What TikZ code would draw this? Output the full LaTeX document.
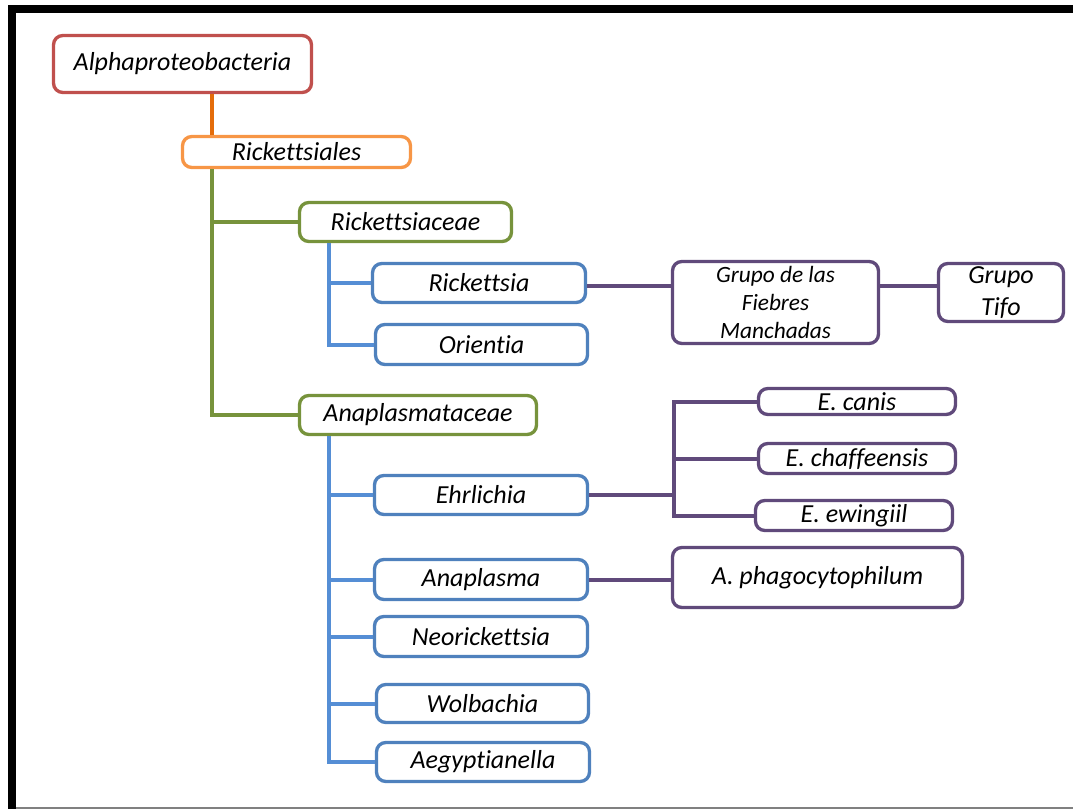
\documentclass[tikz,border=0pt]{standalone}
\usepackage{fontspec}
\setmainfont[Ligatures={NoCommon}]{Carlito}
\definecolor{cred}{HTML}{C0504D}
\definecolor{corange}{HTML}{F79646}
\definecolor{corangeline}{HTML}{E46C0A}
\definecolor{cgreen}{HTML}{77933C}
\definecolor{cblue}{HTML}{4F81BD}
\definecolor{cblueline}{HTML}{558ED5}
\definecolor{cpurple}{HTML}{604A7B}
\begin{document}
\begin{tikzpicture}[x=0.75pt,y=-0.75pt,
  sz/.style 2 args={minimum width=#1*0.75pt, minimum height=#2*0.75pt},
  box/.style={draw, line width=2.5pt, rounded corners=7pt, fill=white, inner sep=0pt,
    align=center, font=\fontsize{19.5}{24}\selectfont\itshape},
  redbox/.style={box, draw=cred},
  orangebox/.style={box, draw=corange},
  greenbox/.style={box, draw=cgreen},
  bluebox/.style={box, draw=cblue},
  purplebox/.style={box, draw=cpurple},
  oline/.style={draw=corangeline, line width=2.8pt},
  gline/.style={draw=cgreen, line width=2.8pt},
  bline/.style={draw=cblueline, line width=3pt},
  pline/.style={draw=cpurple, line width=3pt}]
\useasboundingbox (0,0) rectangle (1073,809);
% frame
\fill[black] (8,5) rectangle (1073,13);
\fill[black] (8,5) rectangle (16,809);
\fill[gray] (16,807) rectangle (1073,809);

% coordinates of trunks
\coordinate (t1) at (212,0);
\coordinate (t2) at (329,0);
\coordinate (t3) at (674,0);

% nodes
\node[redbox, sz={258}{57}] (alpha) at (182.5,64) {Alphaproteobacteria};
\node[orangebox, sz={228}{31}] (rales) at (296.5,152) {Rickettsiales};
\node[greenbox, sz={212}{39}] (rceae) at (405.5,222) {Rickettsiaceae};
\node[greenbox, sz={237}{39}] (aceae) at (418,415) {Anaplasmataceae};
\node[bluebox, sz={213}{39}] (rick) at (479,283) {Rickettsia};
\node[bluebox, sz={212}{40}] (orie) at (481.5,344.5) {Orientia};
\node[bluebox, sz={213}{39}] (ehrl) at (481,495) {Ehrlichia};
\node[bluebox, sz={213}{40}] (anap) at (481,579.5) {Anaplasma};
\node[bluebox, sz={213}{40}] (neor) at (481,636.5) {Neorickettsia};
\node[bluebox, sz={212}{38}] (wolb) at (482.5,703.5) {Wolbachia};
\node[bluebox, sz={213}{39}] (aegy) at (483,762) {Aegyptianella};
\node[purplebox, sz={206}{82}, font=\fontsize{17.5}{21}\selectfont\itshape] (fieb) at (775.5,302.5) {Grupo de las\\Fiebres\\Manchadas};
\node[purplebox, sz={125}{58}] (tifo) at (1001,292.5) {Grupo\\Tifo};
\node[purplebox, sz={197}{26}] (cani) at (857,401.5) {E. canis};
\node[purplebox, sz={197}{30}] (chaf) at (857,458.5) {E. chaffeensis};
\node[purplebox, sz={197}{30}] (ewin) at (854,515.5) {E. ewingiil};
\node[purplebox, sz={290}{60}] (apha) at (817.5,577.5) {A. phagocytophilum};

% connectors
\draw[oline] (alpha.south -| t1) -- (rales.north -| t1);
\draw[gline] (rales.south -| t1) |- (aceae.west);
\draw[gline] (t1 |- rceae.west) -- (rceae.west);
\draw[bline] (rceae.south -| t2) |- (orie.west);
\draw[bline] (t2 |- rick.west) -- (rick.west);
\draw[bline] (aceae.south -| t2) |- (aegy.west);
\draw[bline] (t2 |- ehrl.west) -- (ehrl.west);
\draw[bline] (t2 |- anap.west) -- (anap.west);
\draw[bline] (t2 |- neor.west) -- (neor.west);
\draw[bline] (t2 |- wolb.west) -- (wolb.west);
\coordinate (rp) at ([yshift=-3*0.75pt]rick.east);
\draw[pline] (rick.east |- rp) -- (fieb.west |- rp);
\draw[pline] (fieb.east |- rp) -- (tifo.west |- rp);
\draw[pline] (ehrl.east) -- (t3 |- ehrl.east);
\draw[pline] (cani.west) -| (t3 |- ewin.west) -- (ewin.west);
\draw[pline] (t3 |- chaf.west) -- (chaf.west);
\draw[pline] (anap.east) -- (apha.west |- anap.east);
\end{tikzpicture}
\end{document}
